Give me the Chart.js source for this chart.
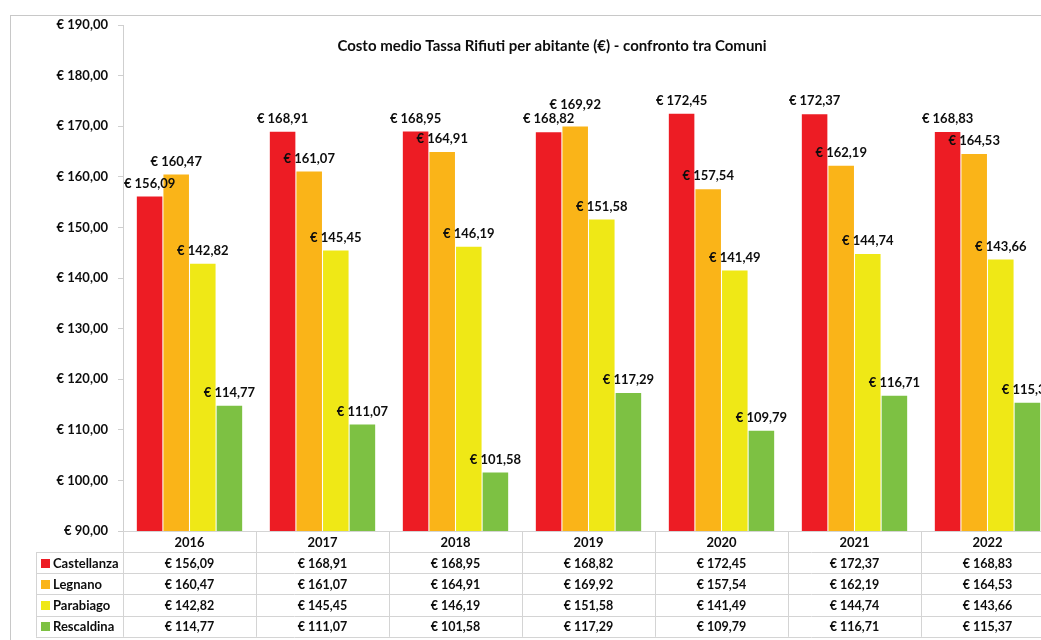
<!DOCTYPE html>
<html>
<head>
<meta charset="utf-8">
<script src="https://cdn.jsdelivr.net/npm/chart.js@4/dist/chart.umd.min.js"></script>
<style>
  html, body { margin: 0; padding: 0; background: #fff; overflow: hidden; }
  #wrap { width: 1070px; height: 640px; }
</style>
</head>
<body>
<div id="wrap"><canvas id="chart" width="1070" height="640"></canvas></div>
<script>
// data
const years = ['2016', '2017', '2018', '2019', '2020', '2021', '2022'];
const comuni = ['Castellanza', 'Legnano', 'Parabiago', 'Rescaldina'];
const castellanza = [156.09, 168.91, 168.95, 168.82, 172.45, 172.37, 168.83];
const legnano     = [160.47, 161.07, 164.91, 169.92, 157.54, 162.19, 164.53];
const parabiago   = [142.82, 145.45, 146.19, 151.58, 141.49, 144.74, 143.66];
const rescaldina  = [114.77, 111.07, 101.58, 117.29, 109.79, 116.71, 115.37];
const colors = ['#ED1C24', '#FAB418', '#EFE816', '#7DC143'];
const title = 'Costo medio Tassa Rifiuti per abitante (€) - confronto tra Comuni';

const FONT = 'Lato, "Open Sans", sans-serif';
const INK = '#0d0d0d';
const euro = v => '€ ' + v.toFixed(2).replace('.', ',');

// title, data labels, data table and outer frame
const extras = {
    id: 'extras',
    beforeDraw(chart) {
        const c = chart.ctx;
        c.save();
        c.strokeStyle = '#c8c8c8';
        c.lineWidth = 1;
        c.strokeRect(10.5, 15.5, chart.width + 20, chart.height + 20);
        c.restore();
    },
    afterDraw(chart) {
        const c = chart.ctx;
        const area = chart.chartArea;
        const x = chart.scales.x;
        c.save();

        // title
        c.fillStyle = INK;
        c.font = 'bold 15px ' + FONT;
        c.textAlign = 'center';
        c.textBaseline = 'middle';
        c.fillText(title, 552, 46);

        // value labels above bars, nudged up when they would hit the previous one
        c.font = 'bold 13px ' + FONT;
        years.forEach((yr, i) => {
            let prev = null;
            chart.data.datasets.forEach((ds, di) => {
                const bar = chart.getDatasetMeta(di).data[i];
                const txt = euro(ds.data[i]);
                const w = c.measureText(txt).width;
                let ly = bar.y - 13;
                if (prev && Math.abs(ly - prev.y) < 14 && bar.x - w / 2 < prev.right) {
                    ly = prev.y - 14;
                }
                c.fillText(txt, bar.x, ly);
                prev = { y: ly, right: bar.x + w / 2 };
            });
        });

        // data table
        const colW = (area.right - area.left) / years.length;
        const top = area.bottom;
        const headH = 21;
        const rowH = 21.2;
        const tableLeft = 36;
        const bottom = top + headH + rowH * comuni.length;

        c.strokeStyle = '#d4d4d4';
        c.lineWidth = 1;
        c.beginPath();
        for (let r = 0; r <= comuni.length; r++) {
            const y = Math.round(top + headH + r * rowH) + 0.5;
            c.moveTo(tableLeft, y);
            c.lineTo(chart.width, y);
        }
        for (let i = 0; i <= years.length; i++) {
            const xx = Math.round(area.left + i * colW) + 0.5;
            c.moveTo(xx, top);
            c.lineTo(xx, bottom);
        }
        c.moveTo(tableLeft + 0.5, top + headH);
        c.lineTo(tableLeft + 0.5, bottom);
        c.stroke();

        c.fillStyle = INK;
        c.font = 'bold 13px ' + FONT;
        years.forEach((y, i) => {
            c.fillText(y, x.getPixelForValue(i), top + headH / 2 + 1);
        });

        chart.data.datasets.forEach((ds, di) => {
            const cy = top + headH + rowH * di + rowH / 2 + 1;
            c.fillStyle = ds.backgroundColor;
            c.fillRect(41, Math.round(cy - 5), 9, 9);
            c.fillStyle = INK;
            c.font = 'bold 13px ' + FONT;
            c.textAlign = 'left';
            c.fillText(ds.label, 53, cy);
            c.textAlign = 'center';
            c.font = 'bold 12.5px ' + FONT;
            ds.data.forEach((v, i) => {
                c.fillText(euro(v), x.getPixelForValue(i), cy);
            });
        });
        c.restore();
    }
};

const series = [castellanza, legnano, parabiago, rescaldina];

new Chart(document.getElementById('chart'), {
    type: 'bar',
    data: {
        labels: years,
        datasets: series.map((d, i) => ({
            label: comuni[i],
            data: d,
            backgroundColor: colors[i],
            categoryPercentage: 0.8,
            barPercentage: 0.96
        }))
    },
    options: {
        responsive: false,
        animation: false,
        layout: { padding: { left: 10, right: 16, top: 25, bottom: 109 } },
        plugins: {
            legend: { display: false },
            tooltip: { enabled: false },
            title: { display: false }
        },
        scales: {
            x: {
                ticks: { display: false },
                grid: { display: false, drawTicks: false },
                border: { display: true, color: '#d4d4d4' }
            },
            y: {
                min: 90,
                max: 190,
                afterFit: s => { s.width = 113; },
                ticks: {
                    stepSize: 10,
                    padding: 10,
                    color: INK,
                    font: { family: FONT, size: 13, weight: 'bold' },
                    callback: v => euro(v)
                },
                grid: { drawOnChartArea: false, tickLength: 5, color: '#cfcfcf' },
                border: { color: '#cfcfcf' }
            }
        }
    },
    plugins: [extras]
});
</script>
</body>
</html>
